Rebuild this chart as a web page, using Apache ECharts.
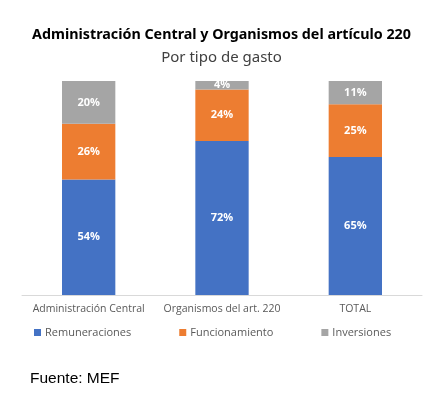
<!DOCTYPE html>
<html><head><meta charset="utf-8">
<script src="https://cdn.jsdelivr.net/npm/echarts@6/dist/echarts.min.js"></script>
<style>html,body{margin:0;padding:0;background:#fff}#c{width:443px;height:395px}</style>
</head><body><div id="c"></div>
<script>
var categories = ['Administración Central', 'Organismos del art. 220', 'TOTAL'];
var remuneraciones = [54, 72, 64.5];
var funcionamiento = [26, 24, 24.6];
var inversiones = [20, 4, 10.9];
var seriesNames = ['Remuneraciones', 'Funcionamiento', 'Inversiones'];
var colors = ['#4472C4', '#ED7D31', '#A5A5A5'];

var chart = echarts.init(document.getElementById('c'));
var lbl = {show: true, position: 'inside', color: '#fff', fontWeight: 'bold', fontSize: 11, fontFamily: 'Open Sans',
  formatter: function(p){ return Math.round(p.value) + '%'; }};
function mk(name, data, color){
  return {name: name, type: 'bar', stack: 's', data: data, barWidth: '40%', itemStyle: {color: color}, label: lbl};
}
chart.setOption({
  animation: false,
  title: [
    {text: 'Administración Central y Organismos del artículo 220', left: 'center', top: 23,
     textStyle: {fontFamily: 'Noto Sans', fontWeight: 'bold', fontSize: 14.3, color: '#000'}},
    {text: 'Por tipo de gasto', left: 'center', top: 45,
     textStyle: {fontFamily: 'Noto Sans', fontWeight: 'normal', fontSize: 15, color: '#404040'}},
    {text: 'Fuente: MEF', left: 25, top: 366,
     textStyle: {fontFamily: 'Liberation Sans', fontWeight: 'normal', fontSize: 15.5, color: '#000'}}
  ],
  legend: {left: 29, top: 322, itemWidth: 7, itemHeight: 7, itemGap: 48,
    icon: 'rect', textStyle: {fontFamily: 'Open Sans', fontSize: 11, color: '#595959', padding: [0,0,0,-1]},
    data: seriesNames},
  grid: {left: 22, right: 21, top: 81, bottom: 100, containLabel: false},
  xAxis: {type: 'category', data: categories,
    axisLine: {lineStyle: {color: '#D9D9D9'}}, axisTick: {show: false},
    axisLabel: {fontFamily: 'Open Sans', fontSize: 10.5, color: '#595959', margin: 9, interval: 0}},
  yAxis: {type: 'value', min: 0, max: 100, show: false, splitLine: {show: false}},
  series: [mk(seriesNames[0], remuneraciones, colors[0]), mk(seriesNames[1], funcionamiento, colors[1]), mk(seriesNames[2], inversiones, colors[2])]
});
</script></body></html>
